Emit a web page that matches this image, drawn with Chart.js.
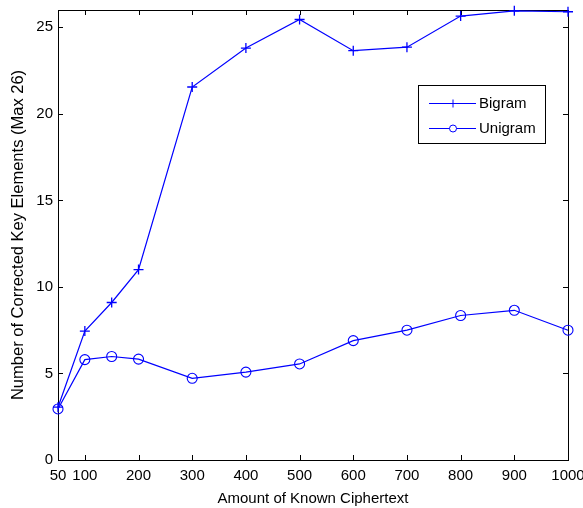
<!DOCTYPE html>
<html>
<head>
<meta charset="utf-8">
<script src="https://cdn.jsdelivr.net/npm/chart.js@4/dist/chart.umd.min.js"></script>
<style>
  html, body { margin: 0; padding: 0; background: #fff; }
  #wrap { width: 583px; height: 508px; }
</style>
</head>
<body>
<div id="wrap"><canvas id="myChart" width="583" height="508"></canvas></div>
<script>
'use strict';
// data
let amounts = [50, 100, 150, 200, 300, 400, 500, 600, 700, 800, 900, 1000];
let bigram = [3.05, 7.45, 9.1, 11.0, 21.55, 23.8, 25.45, 23.65, 23.85, 25.65, 25.95, 25.9];
let unigram = [2.95, 5.8, 5.98, 5.83, 4.72, 5.08, 5.55, 6.9, 7.5, 8.35, 8.65, 7.5];
let xTicks = [50, 100, 200, 300, 400, 500, 600, 700, 800, 900, 1000];
let yTicks = [0, 5, 10, 15, 20, 25];
let seriesNames = ['Bigram', 'Unigram'];

let blue = '#0000ff';
let font = 'Liberation Sans, Arial, sans-serif';

function toPoints(vals) {
  let pts = [];
  for (let i = 0; i < amounts.length; i++) {
    pts.push({ x: amounts[i], y: vals[i] });
  }
  return pts;
}

// inward ticks on all four sides, like matlab
let frameTicks = {
  id: 'frameTicks',
  beforeDatasetsDraw(chart) {
    let ctx = chart.ctx;
    let a = chart.chartArea;
    let xs = chart.scales.x;
    let ys = chart.scales.y;
    ctx.save();
    ctx.strokeStyle = '#000';
    ctx.lineWidth = 1;
    ctx.beginPath();
    for (let i = 0; i < xTicks.length; i++) {
      let px = Math.round(xs.getPixelForValue(xTicks[i])) + 0.5;
      ctx.moveTo(px, a.bottom); ctx.lineTo(px, a.bottom - 5);
      ctx.moveTo(px, a.top); ctx.lineTo(px, a.top + 5);
    }
    for (let i = 0; i < yTicks.length; i++) {
      let py = Math.round(ys.getPixelForValue(yTicks[i])) + 0.5;
      ctx.moveTo(a.left, py); ctx.lineTo(a.left + 5, py);
      ctx.moveTo(a.right, py); ctx.lineTo(a.right - 5, py);
    }
    ctx.stroke();
    ctx.strokeRect(Math.round(a.left) + 0.5, Math.round(a.top) + 0.5, Math.round(a.right - a.left), Math.round(a.bottom - a.top));
    ctx.restore();
  }
};

// boxed legend with line + marker samples
let boxLegend = {
  id: 'boxLegend',
  afterDraw(chart) {
    let ctx = chart.ctx;
    ctx.save();
    ctx.fillStyle = '#fff';
    ctx.fillRect(418, 85, 127, 58);
    ctx.strokeStyle = '#000';
    ctx.lineWidth = 1;
    ctx.strokeRect(418.5, 85.5, 127, 58);
    ctx.font = '15px ' + font;
    ctx.textBaseline = 'middle';
    let rows = [103, 128];
    for (let i = 0; i < seriesNames.length; i++) {
      let y = rows[i] + 0.5;
      ctx.strokeStyle = blue;
      ctx.beginPath();
      ctx.moveTo(429, y); ctx.lineTo(476, y);
      if (i === 0) {
        ctx.moveTo(453, y - 4); ctx.lineTo(453, y + 4);
      }
      ctx.stroke();
      if (i === 1) {
        ctx.fillStyle = '#fff';
        ctx.beginPath();
        ctx.arc(453, y, 3.5, 0, Math.PI * 2);
        ctx.fill();
        ctx.stroke();
      }
      ctx.fillStyle = '#000';
      ctx.fillText(seriesNames[i], 479, rows[i] + 1);
    }
    ctx.restore();
  }
};

let ctx = document.getElementById('myChart').getContext('2d');
let myChart = new Chart(ctx, {
  type: 'line',
  data: {
    datasets: [{
      label: seriesNames[0],
      data: toPoints(bigram),
      borderColor: blue,
      backgroundColor: blue,
      borderWidth: 1.2,
      pointStyle: 'cross',
      pointRadius: 5,
      pointBorderWidth: 1.3,
      tension: 0,
      clip: false
    }, {
      label: seriesNames[1],
      data: toPoints(unigram),
      borderColor: blue,
      backgroundColor: 'rgba(0,0,0,0)',
      borderWidth: 1.2,
      pointStyle: 'circle',
      pointRadius: 5,
      pointBorderWidth: 1.1,
      tension: 0,
      clip: false
    }]
  },
  options: {
    responsive: false,
    animation: false,
    layout: { padding: { top: 10, right: 15, left: 0, bottom: 0 } },
    plugins: {
      legend: { display: false },
      tooltip: { enabled: false }
    },
    scales: {
      x: {
        type: 'linear',
        min: 50,
        max: 1000,
        afterBuildTicks(scale) { scale.ticks = xTicks.map(v => ({ value: v })); },
        afterFit(scale) { scale.height = 48; scale.paddingLeft = 0; scale.paddingRight = 0; },
        grid: { display: false, drawTicks: false },
        border: { display: false },
        ticks: { color: '#000', font: { family: font, size: 15 }, padding: 7, maxRotation: 0, autoSkip: false, callback: v => String(v) },
        title: { display: true, text: 'Amount of Known Ciphertext', color: '#000', font: { family: font, size: 15 }, padding: { top: 2, bottom: 0 } }
      },
      y: {
        min: 0,
        max: 26,
        afterBuildTicks(scale) { scale.ticks = yTicks.map(v => ({ value: v })); },
        afterFit(scale) { scale.width = 58; scale.paddingTop = 0; scale.paddingBottom = 0; },
        grid: { display: false, drawTicks: false },
        border: { display: false },
        ticks: { color: '#000', font: { family: font, size: 15 }, padding: 5, callback: v => String(v) },
        title: { display: true, text: 'Number of Corrected Key Elements (Max 26)', color: '#000', font: { family: font, size: 16.5 }, padding: { top: 9, bottom: 0 } }
      }
    }
  },
  plugins: [frameTicks, boxLegend]
});
</script>
</body>
</html>
